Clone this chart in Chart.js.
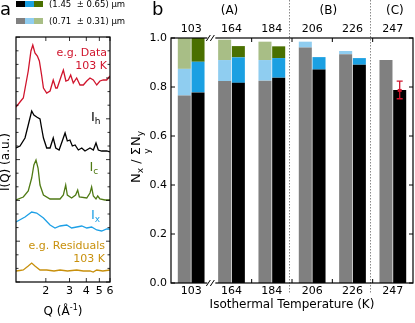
<!DOCTYPE html>
<html>
<head>
<meta charset="utf-8">
<script src="https://cdn.jsdelivr.net/npm/chart.js@4"></script>
<style>
  body { margin: 0; background: #fff; width: 415px; height: 323px; position: relative; overflow: hidden; }
  #wrapA { position: absolute; left: 0; top: 0; width: 140px; height: 323px; }
  #wrapB { position: absolute; left: 120px; top: 0; width: 295px; height: 323px; }
</style>
</head>
<body>
<div id="wrapA"><canvas id="chartA" width="140" height="323"></canvas></div>
<div id="wrapB"><canvas id="chartB" width="295" height="323"></canvas></div>
<script>
const FONT = '"DejaVu Sans", sans-serif';

// ---- panel b data ----
const temps = ['103', '164', '184', '206', '226', '247'];
const regimes = ['(A)', '(B)', '(C)'];
// small crystallites (0.71 um): hexagonal / stacking disordered / cubic segments
const smallH = [0.765, 0.824, 0.826, 0.961, 0.934, 0.910];
const smallX = [0.109, 0.086, 0.084, 0.024, 0.013, 0];
const smallC = [0.126, 0.083, 0.075, 0, 0, 0];
// large crystallites (1.45 um)
const largeH = [0.778, 0.817, 0.838, 0.871, 0.891, 0.788];
const largeX = [0.125, 0.104, 0.080, 0.051, 0.027, 0];
const largeC = [0.097, 0.046, 0.048, 0, 0, 0];
// error bar on the 247 K large-crystallite bar
const errLow  = [null, null, null, null, null, 0.752];
const errHigh = [null, null, null, null, null, 0.824];
const yTicksB = [0, 0.2, 0.4, 0.6, 0.8, 1.0];

const colSmall = ['#808080', '#8fcdf0', '#a8be86'];
const colLarge = ['#000000', '#1ba0e2', '#4a7000'];

// ---- panel a data (Q in 1/A, intensity offset in arbitrary units) ----
const qData = [1.20, 1.32, 1.36, 1.48, 1.55, 1.60, 1.66, 1.73, 1.79, 1.86, 1.92, 2.03, 2.15, 2.27, 2.37, 2.43, 2.62, 2.70, 2.82, 2.94, 3.06, 3.20, 3.39, 3.59, 3.80, 4.03, 4.26, 4.51, 4.78, 5.05, 5.35, 5.67, 6.00];
const iData = [175, 182, 184, 211, 231, 237, 229, 226, 221, 207, 194, 189, 191, 202, 194, 194, 207, 212, 201, 202, 207, 199, 204, 197, 197, 201, 204, 202, 197, 201, 202, 202, 206];
const qHex = [1.20, 1.285, 1.40, 1.48, 1.57, 1.63, 1.71, 1.81, 1.86, 1.92, 2.03, 2.15, 2.27, 2.37, 2.51, 2.65, 2.78, 2.89, 3.02, 3.15, 3.30, 3.49, 3.70, 3.91, 4.26, 4.51, 4.72, 4.91, 5.20, 5.67, 6.00];
const iHex = [134, 136, 144, 157, 171, 167, 165, 163, 154, 144, 134, 134, 144, 134, 132, 141, 149, 141, 142, 136, 137, 132, 134, 131, 134, 132, 139, 132, 131, 131, 130];
const qCub = [1.20, 1.36, 1.48, 1.57, 1.63, 1.69, 1.75, 1.81, 1.92, 2.15, 2.55, 2.70, 2.81, 2.89, 3.11, 3.33, 3.45, 3.55, 4.03, 4.26, 4.38, 4.51, 4.72, 4.86, 5.05, 5.51, 6.00];
const iCub = [82, 85, 91, 104, 117, 122, 114, 97, 87, 83, 83, 87, 97, 87, 84, 87, 92, 85, 84, 89, 95, 86, 83, 86, 83, 82, 82];
const qDis = [1.20, 1.40, 1.57, 1.71, 1.92, 2.15, 2.34, 2.55, 2.86, 3.11, 3.39, 3.70, 4.03, 4.38, 4.78, 5.20, 5.67, 6.00];
const iDis = [60, 65, 70, 69, 64, 57, 54, 56, 57, 54, 55, 56, 54, 55, 52, 51, 53, 53];
const qRes = [1.20, 1.28, 1.36, 1.48, 1.57, 1.66, 1.81, 2.03, 2.3, 2.55, 2.9, 3.39, 3.8, 4.26, 4.5, 4.78, 5.3, 6.00];
const iRes = [11, 11.5, 12, 16, 19, 16, 12, 12, 11, 12, 11, 12, 11, 11, 10, 12, 11, 12];
const qTicks = [2, 3, 4, 5, 6];

const colData = '#d0142c';
const colRes = '#c8900c';
const colHex = '#000000';
const colCub = '#4f7a14';
const colDis = '#1ea0e6';

function zipXY(xs, ys) {
    return xs.map((x, i) => ({ x: x, y: ys[i] }));
}

// draw a run of text pieces: [text, size, dy]
function drawParts(ctx, parts, x, y, align) {
    let w = 0;
    parts.forEach(p => { ctx.font = p[1] + 'px ' + FONT; w += ctx.measureText(p[0]).width; });
    let cx = align === 'right' ? x - w : (align === 'center' ? x - w / 2 : x);
    ctx.textAlign = 'left';
    ctx.textBaseline = 'middle';
    parts.forEach(p => {
        ctx.font = p[1] + 'px ' + FONT;
        ctx.fillText(p[0], cx, y + (p[2] || 0));
        cx += ctx.measureText(p[0]).width;
    });
}

// ---- panel a decorations ----
const frameA = {
    id: 'frameA',
    afterDraw(chart) {
        const ctx = chart.ctx;
        const a = chart.chartArea;
        const xs = chart.scales.x;
        const ys = chart.scales.y;
        ctx.save();
        ctx.strokeStyle = '#000';
        ctx.lineWidth = 1.2;
        ctx.strokeRect(a.left, a.top, a.right - a.left, a.bottom - a.top);

        // inward ticks
        ctx.lineWidth = 0.8;
        ctx.beginPath();
        let k = 0;
        for (let v = 0; v <= 245; v += 13.6, k++) {
            const py = ys.getPixelForValue(v);
            const len = k % 3 === 0 ? 4 : 2.5;
            ctx.moveTo(a.left, py); ctx.lineTo(a.left + len, py);
            ctx.moveTo(a.right, py); ctx.lineTo(a.right - len, py);
        }
        qTicks.forEach(q => {
            const px = xs.getPixelForValue(q);
            ctx.moveTo(px, a.bottom); ctx.lineTo(px, a.bottom - 4);
            ctx.moveTo(px, a.top); ctx.lineTo(px, a.top + 4);
        });
        ctx.stroke();

        // curve labels
        ctx.fillStyle = colData;
        drawParts(ctx, [['e.g. Data', 11]], xs.getPixelForValue(5.7), ys.getPixelForValue(229), 'right');
        drawParts(ctx, [['103 K', 11]], xs.getPixelForValue(5.7), ys.getPixelForValue(216), 'right');
        ctx.fillStyle = colHex;
        drawParts(ctx, [['I', 13], ['h', 9, 4]], xs.getPixelForValue(4.33), ys.getPixelForValue(164), 'left');
        ctx.fillStyle = colCub;
        drawParts(ctx, [['I', 13], ['c', 9, 4]], xs.getPixelForValue(4.22), ys.getPixelForValue(114), 'left');
        ctx.fillStyle = colDis;
        drawParts(ctx, [['I', 13], ['x', 9, 4]], xs.getPixelForValue(4.33), ys.getPixelForValue(66), 'left');
        ctx.fillStyle = colRes;
        drawParts(ctx, [['e.g. Residuals', 11]], xs.getPixelForValue(5.5), ys.getPixelForValue(36), 'right');
        drawParts(ctx, [['103 K', 11]], xs.getPixelForValue(5.5), ys.getPixelForValue(23), 'right');

        // axis titles
        ctx.fillStyle = '#000';
        drawParts(ctx, [['Q (Å', 12], ['-1', 8, -4], [')', 12]], (a.left + a.right) / 2, 312, 'center');
        ctx.save();
        ctx.translate(6, 162);
        ctx.rotate(-Math.PI / 2);
        drawParts(ctx, [['I(Q) (a.u.)', 12]], 0, 0, 'center');
        ctx.restore();

        // panel letter
        drawParts(ctx, [['a', 18]], 0, 10, 'left');

        // crystallite size legend
        const rows = [[colLarge, '(1.45  ± 0.65) µm', 4], [colSmall, '(0.71  ± 0.31) µm', 21]];
        rows.forEach(r => {
            r[0].forEach((c, i) => {
                ctx.fillStyle = c;
                ctx.fillRect(16 + i * 9, r[2] - 3, 9, 6);
            });
            ctx.fillStyle = '#000';
            drawParts(ctx, [[r[1], 8.5]], 49, r[2] + 0.5, 'left');
        });
        ctx.restore();
    }
};

new Chart(document.getElementById('chartA'), {
    type: 'line',
    data: {
        datasets: [
            { data: zipXY(qData, iData), borderColor: colData },
            { data: zipXY(qHex, iHex), borderColor: colHex },
            { data: zipXY(qCub, iCub), borderColor: colCub },
            { data: zipXY(qDis, iDis), borderColor: colDis },
            { data: zipXY(qRes, iRes), borderColor: colRes }
        ]
    },
    options: {
        responsive: false,
        animation: false,
        layout: { padding: { left: 16, right: 30, top: 37, bottom: 0 } },
        elements: { point: { radius: 0 }, line: { borderWidth: 1.3, tension: 0 } },
        plugins: { legend: { display: false }, tooltip: { enabled: false } },
        scales: {
            x: {
                type: 'logarithmic',
                min: 1.2,
                max: 6,
                afterBuildTicks: s => { s.ticks = qTicks.map(v => ({ value: v })); },
                afterFit: s => { s.height = 41; },
                grid: { display: false, drawTicks: false },
                border: { display: false },
                ticks: {
                    autoSkip: false, maxRotation: 0, padding: 3, color: '#000',
                    font: { family: FONT, size: 11 },
                    callback: v => String(v)
                }
            },
            y: { display: false, min: 0, max: 245 }
        }
    },
    plugins: [frameA]
});

// ---- panel b decorations ----
const frameB = {
    id: 'frameB',
    afterDraw(chart) {
        const ctx = chart.ctx;
        const a = chart.chartArea;
        const xs = chart.scales.x;
        const ys = chart.scales.y;
        ctx.save();

        // dotted regime separators
        ctx.strokeStyle = '#8a8a8a';
        ctx.lineWidth = 1;
        ctx.setLineDash([1.5, 1.5]);
        [2.43, 4.43].forEach(v => {
            const px = Math.round(xs.getPixelForValue(v)) + 0.5;
            ctx.beginPath();
            ctx.moveTo(px, 0); ctx.lineTo(px, a.bottom + 11);
            ctx.stroke();
        });
        ctx.setLineDash([]);

        // frame
        ctx.strokeStyle = '#000';
        ctx.lineWidth = 1.2;
        ctx.strokeRect(a.left, a.top, a.right - a.left, a.bottom - a.top);

        // inward ticks
        ctx.lineWidth = 1;
        ctx.beginPath();
        yTicksB.forEach(v => {
            const py = ys.getPixelForValue(v);
            ctx.moveTo(a.left, py); ctx.lineTo(a.left + 4, py);
            ctx.moveTo(a.right, py); ctx.lineTo(a.right - 4, py);
        });
        [1.5, 2.5, 3.5, 4.5].forEach(v => {
            const px = xs.getPixelForValue(v);
            ctx.moveTo(px, a.bottom); ctx.lineTo(px, a.bottom - 4);
            ctx.moveTo(px, a.top); ctx.lineTo(px, a.top + 4);
        });
        ctx.stroke();

        // axis break marks
        const bx = xs.getPixelForValue(0.5);
        [a.top, a.bottom].forEach(by => {
            ctx.fillStyle = '#fff';
            ctx.fillRect(bx - 4, by - 2, 8, 4);
            ctx.beginPath();
            ctx.moveTo(bx - 5, by + 3); ctx.lineTo(bx - 1, by - 3);
            ctx.moveTo(bx - 1, by + 3); ctx.lineTo(bx + 3, by - 3);
            ctx.stroke();
        });

        // error bar on large-crystallite stack
        const meta = chart.getDatasetMeta(3);
        ctx.strokeStyle = colData;
        ctx.fillStyle = colData;
        ctx.lineWidth = 1.3;
        errLow.forEach((lo, i) => {
            if (lo === null) return;
            const px = meta.data[i].x;
            const y1 = ys.getPixelForValue(lo);
            const y2 = ys.getPixelForValue(errHigh[i]);
            ctx.beginPath();
            ctx.moveTo(px, y1); ctx.lineTo(px, y2);
            ctx.moveTo(px - 3, y1); ctx.lineTo(px + 3, y1);
            ctx.moveTo(px - 3, y2); ctx.lineTo(px + 3, y2);
            ctx.stroke();
            const ym = ys.getPixelForValue(largeH[i]);
            ctx.fillRect(px - 2, ym - 1, 4, 3);
        });

        // regime labels
        ctx.fillStyle = '#000';
        drawParts(ctx, [[regimes[0], 12]], xs.getPixelForValue(0.95), 11, 'center');
        drawParts(ctx, [[regimes[1], 12]], xs.getPixelForValue(3.4), 11, 'center');
        drawParts(ctx, [[regimes[2], 12]], xs.getPixelForValue(5.05), 11, 'center');

        // panel letter
        drawParts(ctx, [['b', 18]], 32, 10, 'left');

        // y title N_x / sum_y N_y
        ctx.save();
        ctx.translate(17, 157);
        ctx.rotate(-Math.PI / 2);
        ctx.font = '13px ' + FONT;
        const wN = ctx.measureText('N').width;
        const wS = ctx.measureText(' / ').width;
        const wSig = ctx.measureText('Σ').width;
        ctx.font = '9px ' + FONT;
        const wx = ctx.measureText('x').width;
        const wy = ctx.measureText('y').width;
        let cx = -(wN * 2 + wx + wS + wSig + wy + 1) / 2;
        drawParts(ctx, [['N', 13], ['x', 9, 4], [' / ', 13], ['Σ', 13]], cx, 0, 'left');
        cx += wN + wx + wS;
        drawParts(ctx, [['y', 9]], cx + wSig / 2, 11, 'center');
        cx += wSig + 1;
        drawParts(ctx, [['N', 13], ['y', 9, 4]], cx, 0, 'left');
        ctx.restore();

        ctx.restore();
    }
};

const tickFont = { family: FONT, size: 11 };

new Chart(document.getElementById('chartB'), {
    type: 'bar',
    data: {
        labels: temps,
        datasets: [
            { data: smallH, backgroundColor: colSmall[0], stack: 'small' },
            { data: smallX, backgroundColor: colSmall[1], stack: 'small' },
            { data: smallC, backgroundColor: colSmall[2], stack: 'small' },
            { data: largeH, backgroundColor: colLarge[0], stack: 'large' },
            { data: largeX, backgroundColor: colLarge[1], stack: 'large' },
            { data: largeC, backgroundColor: colLarge[2], stack: 'large' }
        ]
    },
    options: {
        responsive: false,
        animation: false,
        layout: { padding: { left: 0, right: 2, top: 0, bottom: 0 } },
        datasets: { bar: { categoryPercentage: 0.68, barPercentage: 0.95, borderWidth: 0 } },
        plugins: { legend: { display: false }, tooltip: { enabled: false } },
        scales: {
            x: {
                stacked: true,
                position: 'bottom',
                afterFit: s => { s.height = 40; },
                grid: { display: false, drawTicks: false },
                border: { display: false },
                ticks: { color: '#000', font: tickFont, padding: 2, maxRotation: 0, autoSkip: false },
                title: {
                    display: true, text: 'Isothermal Temperature (K)', color: '#000',
                    font: { family: FONT, size: 12 }, padding: { top: 0, bottom: 11 }
                }
            },
            xTop: {
                type: 'category',
                position: 'top',
                labels: temps,
                afterFit: s => { s.height = 38; },
                grid: { display: false, drawTicks: false },
                border: { display: false },
                ticks: { color: '#000', font: tickFont, padding: 2, maxRotation: 0, autoSkip: false }
            },
            y: {
                stacked: true,
                min: 0,
                max: 1,
                afterFit: s => { s.width = 51; },
                grid: { display: false, drawTicks: false },
                border: { display: false },
                ticks: { stepSize: 0.2, color: '#000', font: tickFont, padding: 4, callback: v => v.toFixed(1) }
            }
        }
    },
    plugins: [frameB]
});
</script>
</body>
</html>
